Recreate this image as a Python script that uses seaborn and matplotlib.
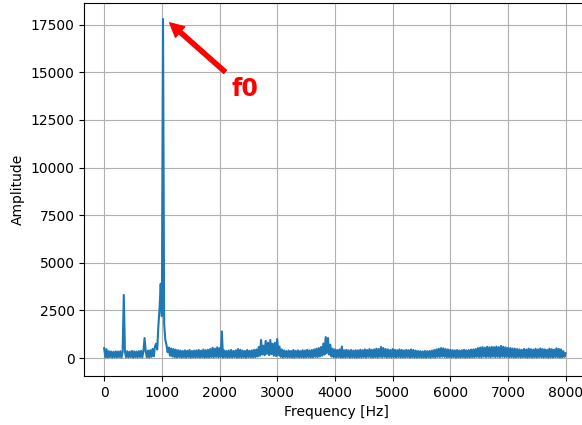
import numpy as np
import pandas as pd
import matplotlib
matplotlib.use("Agg")
import matplotlib.pyplot as plt
import seaborn as sns

# Magnitude spectrum, one value per 20 Hz bin
bin_width_hz = 20

# 0 - 1980 Hz
amp_low = [
    520, 40, 460, 30, 360, 50, 340, 20, 330, 40, 350, 30, 340, 50, 360, 20, 320, 3310, 340, 40,
    360, 30, 330, 50, 370, 20, 350, 40, 340, 30, 360, 50, 380, 30, 340, 1050, 360, 40, 390, 30,
    410, 60, 480, 90, 600, 750, 450, 1700, 2600, 3900, 2200, 17800, 1800, 950, 700, 300, 550, 120, 500, 80,
    470, 40, 440, 30, 410, 50, 390, 20, 370, 40, 400, 30, 380, 50, 420, 20, 370, 40, 390, 30,
    400, 40, 420, 30, 390, 50, 440, 20, 410, 40, 430, 30, 470, 50, 540, 40, 490, 60, 560, 40,
]
# 2000 - 3980 Hz
amp_mid = [
    520, 50, 1400, 30, 400, 40, 370, 20, 390, 40, 420, 30, 370, 50, 400, 20, 470, 40, 430, 30,
    390, 40, 370, 20, 420, 50, 380, 30, 400, 40, 430, 50, 450, 80, 580, 120, 950, 180, 650, 150,
    900, 220, 800, 150, 950, 200, 750, 120, 800, 100, 1000, 150, 600, 60, 450, 30, 400, 50, 370, 30,
    390, 40, 370, 30, 420, 20, 380, 50, 400, 30, 370, 40, 410, 30, 390, 40, 430, 50, 400, 30,
    420, 40, 450, 60, 490, 50, 520, 80, 580, 120, 760, 180, 1100, 250, 1050, 180, 700, 80, 490, 40,
]
# 4000 - 5980 Hz
amp_high = [
    450, 30, 420, 50, 450, 30, 600, 40, 410, 30, 430, 50, 400, 20, 420, 40, 390, 30, 410, 20,
    400, 40, 430, 30, 410, 50, 450, 30, 420, 60, 470, 40, 430, 30, 450, 50, 490, 30, 470, 60,
    580, 40, 520, 60, 470, 30, 450, 50, 420, 30, 470, 40, 430, 30, 410, 50, 450, 30, 420, 40,
    400, 30, 430, 50, 410, 20, 450, 40, 420, 30, 390, 20, 370, 40, 360, 20, 350, 30, 370, 20,
    360, 40, 370, 20, 390, 50, 420, 30, 450, 60, 490, 50, 520, 70, 510, 60, 470, 40, 450, 50,
]
# 6000 - 8000 Hz
amp_top = [
    430, 30, 410, 50, 400, 20, 420, 40, 390, 30, 410, 50, 430, 20, 400, 40, 420, 30, 440, 50,
    450, 40, 470, 60, 520, 50, 550, 40, 570, 70, 540, 50, 590, 60, 560, 40, 580, 70, 570, 50,
    600, 60, 570, 40, 630, 70, 590, 50, 560, 60, 530, 40, 520, 50, 500, 30, 490, 40, 470, 50,
    450, 30, 430, 50, 470, 40, 450, 20, 490, 50, 460, 30, 440, 40, 480, 30, 450, 50, 500, 40,
    470, 30, 450, 50, 430, 20, 490, 40, 460, 30, 440, 50, 510, 40, 480, 30, 450, 40, 360, 60,
    250,
]

amplitude = amp_low + amp_mid + amp_high + amp_top
frequency = np.arange(len(amplitude)) * bin_width_hz
spectrum = pd.DataFrame({"Frequency [Hz]": frequency, "Amplitude": amplitude})

f0_label = "f0"
f0_freq = 1080
f0_amp = 17750

fig = plt.figure(figsize=(5.82, 4.25), dpi=100)
ax = fig.add_axes([0.1448, 0.1153, 0.8667, 0.8776])

sns.lineplot(data=spectrum, x="Frequency [Hz]", y="Amplitude", ax=ax,
             color="#1f77b4", linewidth=1.5)

ax.set_xlim(-345, 8400)
ax.set_ylim(-945, 18640)
ax.set_xticks(np.arange(0, 8001, 1000))
ax.set_yticks(np.arange(0, 17501, 2500))
ax.grid(True, color="#b0b0b0", linewidth=0.8)
ax.set_axisbelow(True)

ax.annotate(f0_label, xy=(f0_freq, f0_amp), xytext=(2200, 13750),
            color="red", fontsize=17, fontweight="bold",
            arrowprops=dict(facecolor="red", edgecolor="red", shrink=0.05,
                            width=3, headwidth=10, headlength=10))

fig.savefig("out.png", dpi=100)
